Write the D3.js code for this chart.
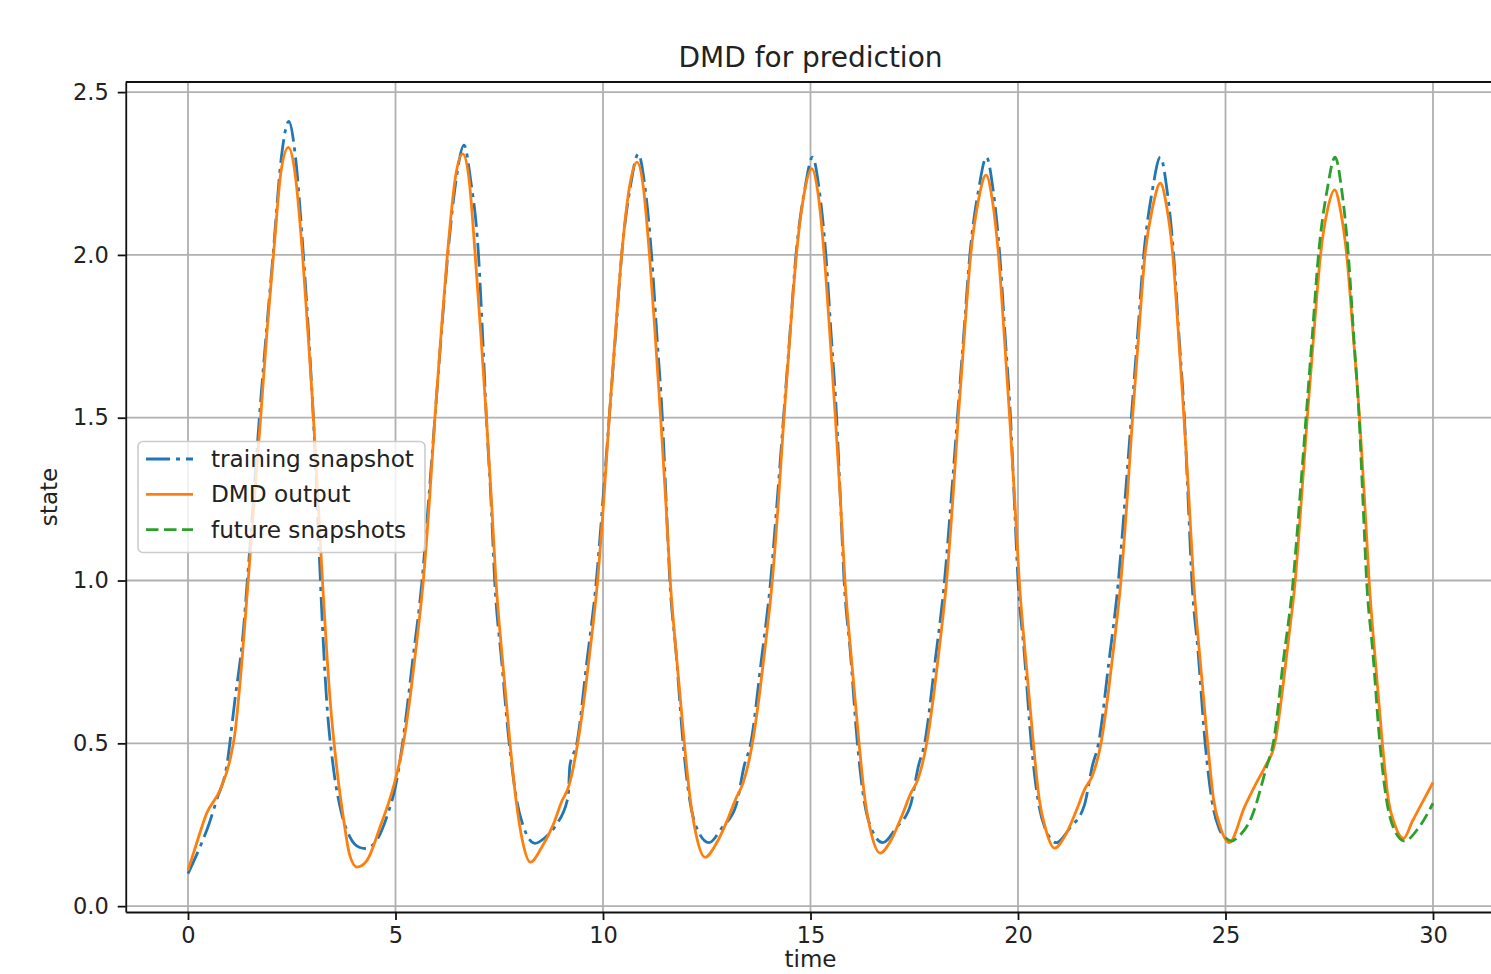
<!DOCTYPE html>
<html>
<head>
<meta charset="utf-8">
<script src="https://cdn.jsdelivr.net/npm/d3@7"></script>
<style>
  body { margin: 0; background: #fff; }
  svg text { font-family: "DejaVu Sans", sans-serif; fill: #222; }
</style>
</head>
<body>
<div id="chart"></div>
<script>
// values
const trainTime = [
  0, 0.29, 0.5, 0.69, 0.93, 1.13, 1.33, 1.43, 1.58, 1.72, 1.88, 2.05, 2.25, 2.43, 2.59, 2.78, 2.91, 3.02, 3.11, 3.19, 3.34, 3.5, 3.7, 3.9, 4.14, 4.27, 4.55, 4.79, 5.03,
  5.17, 5.41, 5.64, 5.8, 5.95, 6.1, 6.26, 6.46, 6.65, 6.81, 7.0, 7.1, 7.19, 7.3, 7.39, 7.56, 7.74, 7.92, 8.08, 8.36, 8.6, 8.84, 9.16, 9.2,
  9.37, 9.61, 9.84, 10.0, 10.15, 10.3, 10.45, 10.66, 10.85, 11.01, 11.17, 11.3, 11.43, 11.52, 11.61, 11.76, 11.93, 12.09, 12.26, 12.55, 12.86, 13.21, 13.4,
  13.56, 13.81, 14.04, 14.2, 14.35, 14.5, 14.65, 14.86, 15.05, 15.21, 15.37, 15.5, 15.63, 15.72, 15.81, 15.96, 16.13, 16.29, 16.46, 16.74, 17.06, 17.41, 17.6,
  17.75, 18.0, 18.23, 18.39, 18.54, 18.69, 18.84, 19.05, 19.24, 19.4, 19.56, 19.69, 19.82, 19.91, 20.0, 20.15, 20.32, 20.48, 20.65, 20.92, 21.25, 21.6, 21.79,
  21.94, 22.19, 22.42, 22.58, 22.73, 22.88, 23.03, 23.24, 23.43, 23.59, 23.75, 23.88, 24.01, 24.1, 24.19, 24.34, 24.51, 24.67, 24.84, 25.0
];
const trainState = [
  0.10, 0.182, 0.25, 0.326, 0.428, 0.633, 0.84, 1.0, 1.25, 1.5, 1.75, 2.0, 2.3, 2.41, 2.3, 2.0, 1.75, 1.5, 1.25, 1.0, 0.633, 0.428, 0.285, 0.213, 0.18, 0.177, 0.203, 0.274, 0.387,
  0.5, 0.75, 1.0, 1.25, 1.5, 1.75, 2.0, 2.23, 2.337, 2.23, 2.0, 1.75, 1.5, 1.25, 1.0, 0.75, 0.5, 0.326, 0.245, 0.193, 0.21, 0.244, 0.336, 0.43,
  0.5, 0.75, 1.0, 1.25, 1.5, 1.75, 2.0, 2.21, 2.31, 2.21, 2.0, 1.75, 1.5, 1.25, 1.0, 0.78, 0.5, 0.326, 0.24, 0.195, 0.24, 0.31, 0.43,
  0.5, 0.75, 1.0, 1.25, 1.5, 1.75, 2.0, 2.2, 2.30, 2.2, 2.0, 1.75, 1.5, 1.25, 1.0, 0.78, 0.5, 0.326, 0.24, 0.195, 0.24, 0.31, 0.43,
  0.5, 0.75, 1.0, 1.25, 1.5, 1.75, 2.0, 2.2, 2.30, 2.2, 2.0, 1.75, 1.5, 1.25, 1.0, 0.78, 0.5, 0.326, 0.24, 0.195, 0.24, 0.31, 0.43,
  0.5, 0.75, 1.0, 1.25, 1.5, 1.75, 2.0, 2.2, 2.30, 2.2, 2.0, 1.75, 1.5, 1.25, 1.0, 0.78, 0.5, 0.326, 0.24, 0.21
];

const dmdTime = [
  0, 0.2, 0.45, 0.77, 1.01, 1.13, 1.25, 1.45, 1.6, 1.75, 1.9, 2.06, 2.24, 2.42, 2.58, 2.76, 2.88, 3.0, 3.12, 3.24, 3.42, 3.58, 3.74, 3.9, 4.07, 4.31, 4.63, 4.95,
  5.19, 5.37, 5.52, 5.67, 5.82, 5.95, 6.1, 6.25, 6.44, 6.62, 6.77, 6.92, 7.06, 7.19, 7.31, 7.42, 7.59, 7.76, 7.9, 8.06, 8.25, 8.52, 8.8, 9.0, 9.18,
  9.39, 9.57, 9.72, 9.87, 10.02, 10.15, 10.3, 10.45, 10.64, 10.82, 10.97, 11.12, 11.26, 11.39, 11.51, 11.62, 11.79, 11.96, 12.1, 12.26, 12.46, 12.72, 13.0, 13.2, 13.38,
  13.6, 13.78, 13.93, 14.08, 14.23, 14.36, 14.51, 14.66, 14.85, 15.03, 15.18, 15.33, 15.47, 15.6, 15.72, 15.83, 16.0, 16.17, 16.31, 16.47, 16.68, 16.93, 17.21, 17.41, 17.59,
  17.8, 17.98, 18.13, 18.28, 18.43, 18.56, 18.71, 18.86, 19.05, 19.23, 19.38, 19.53, 19.67, 19.8, 19.92, 20.03, 20.2, 20.37, 20.51, 20.67, 20.88, 21.13, 21.41, 21.61, 21.79,
  22.0, 22.18, 22.33, 22.48, 22.63, 22.76, 22.91, 23.06, 23.25, 23.43, 23.58, 23.73, 23.87, 24.0, 24.12, 24.23, 24.4, 24.57, 24.71, 24.87, 25.09, 25.46, 25.75, 25.96,
  26.19, 26.37, 26.52, 26.68, 26.83, 26.97, 27.13, 27.29, 27.46, 27.63, 27.78, 27.92, 28.08, 28.23, 28.35, 28.46, 28.62, 28.78, 28.92, 29.08, 29.29, 29.5, 29.75, 30.0
];
const dmdState = [
  0.11, 0.19, 0.285, 0.356, 0.448, 0.53, 0.68, 1.0, 1.25, 1.5, 1.76, 2.0, 2.255, 2.33, 2.25, 2.0, 1.78, 1.55, 1.28, 1.0, 0.64, 0.43, 0.275, 0.155, 0.12, 0.14, 0.244, 0.366,
  0.5, 0.66, 0.82, 1.0, 1.25, 1.5, 1.76, 2.0, 2.235, 2.31, 2.235, 2.0, 1.75, 1.5, 1.25, 1.0, 0.74, 0.5, 0.33, 0.2, 0.135, 0.18, 0.25, 0.32, 0.37,
  0.5, 0.66, 0.82, 1.0, 1.25, 1.5, 1.76, 2.0, 2.21, 2.285, 2.21, 2.0, 1.75, 1.5, 1.25, 1.0, 0.74, 0.5, 0.33, 0.21, 0.15, 0.19, 0.265, 0.33, 0.38,
  0.5, 0.66, 0.82, 1.0, 1.25, 1.5, 1.76, 2.0, 2.19, 2.265, 2.19, 2.0, 1.75, 1.5, 1.25, 1.0, 0.74, 0.5, 0.33, 0.22, 0.163, 0.2, 0.28, 0.345, 0.39,
  0.5, 0.66, 0.82, 1.0, 1.25, 1.5, 1.76, 2.0, 2.17, 2.245, 2.17, 2.0, 1.75, 1.5, 1.25, 1.0, 0.74, 0.5, 0.33, 0.235, 0.178, 0.215, 0.295, 0.36, 0.4,
  0.5, 0.66, 0.82, 1.0, 1.25, 1.5, 1.76, 2.0, 2.15, 2.22, 2.15, 2.0, 1.75, 1.5, 1.25, 1.0, 0.74, 0.5, 0.33, 0.245, 0.195, 0.305, 0.38, 0.43,
  0.5, 0.66, 0.82, 1.0, 1.25, 1.5, 1.76, 2.0, 2.14, 2.2, 2.13, 2.0, 1.75, 1.5, 1.25, 1.0, 0.74, 0.5, 0.33, 0.25, 0.208, 0.26, 0.32, 0.38
];

const futureTime = [
  25.0, 25.15, 25.31, 25.63, 25.99, 26.15, 26.39, 26.63, 26.79, 26.94, 27.09, 27.24, 27.45, 27.64,
  27.8, 27.96, 28.09, 28.22, 28.31, 28.4, 28.55, 28.72, 28.88, 29.05, 29.31, 29.65, 30.0
];
const futureState = [
  0.21, 0.2, 0.213, 0.274, 0.428, 0.5, 0.75, 1.0, 1.25, 1.5, 1.75, 2.0, 2.2, 2.3,
  2.2, 2.0, 1.75, 1.5, 1.25, 1.0, 0.78, 0.5, 0.326, 0.24, 0.2, 0.24, 0.316
];

const xTicks = [0, 5, 10, 15, 20, 25, 30];
const yTicks = [0.0, 0.5, 1.0, 1.5, 2.0, 2.5];
const legendLabels = ['training snapshot', 'DMD output', 'future snapshots'];

const width = 1491, height = 974;
const plot = { left: 125.75, right: 1495.25, top: 82, bottom: 912 };

const svg = d3.select('#chart')
    .append('svg')
    .attr('width', width)
    .attr('height', height);

const x = d3.scaleLinear().domain([-1.5, 31.5]).range([plot.left, plot.right]);
const y = d3.scaleLinear().domain([-0.018, 2.531]).range([plot.bottom, plot.top]);

// grid
const grid = svg.append('g').attr('stroke', '#b0b0b0').attr('stroke-width', 1.8);
grid.selectAll('.gx').data(xTicks).enter().append('line')
    .attr('x1', d => x(d)).attr('x2', d => x(d))
    .attr('y1', plot.top).attr('y2', plot.bottom);
grid.selectAll('.gy').data(yTicks).enter().append('line')
    .attr('x1', plot.left).attr('x2', plot.right)
    .attr('y1', d => y(d)).attr('y2', d => y(d));

// lines
const line = d3.line()
    .x(d => x(d[0]))
    .y(d => y(d[1]))
    .curve(d3.curveMonotoneX);

const series = [
    { t: trainTime, v: trainState, color: '#1f77b4', dash: '24,6,4,6' },
    { t: dmdTime, v: dmdState, color: '#ff7f0e', dash: null },
    { t: futureTime, v: futureState, color: '#2ca02c', dash: '12.5,5.5' }
];

series.forEach(s => {
    svg.append('path')
        .datum(d3.zip(s.t, s.v))
        .attr('d', line)
        .attr('fill', 'none')
        .attr('stroke', s.color)
        .attr('stroke-width', 2.8)
        .attr('stroke-linejoin', 'round')
        .attr('stroke-dasharray', s.dash);
});

// axes
const xAxis = svg.append('g')
    .attr('transform', `translate(0,${plot.bottom})`)
    .call(d3.axisBottom(x).tickValues(xTicks).tickFormat(d3.format('d')).tickSize(8).tickPadding(7).tickSizeOuter(0));
const yAxis = svg.append('g')
    .attr('transform', `translate(${plot.left},0)`)
    .call(d3.axisLeft(y).tickValues(yTicks).tickFormat(d3.format('.1f')).tickSize(8).tickPadding(9).tickSizeOuter(0));

[xAxis, yAxis].forEach(a => {
    a.selectAll('path.domain').attr('stroke', '#111').attr('stroke-width', 1.8);
    a.selectAll('.tick line').attr('stroke', '#111').attr('stroke-width', 1.8);
    a.selectAll('.tick text').attr('font-size', 22.5).attr('fill', '#222')
        .style('font-family', '"DejaVu Sans", sans-serif');
});

// top spine
svg.append('line')
    .attr('x1', plot.left).attr('x2', plot.right)
    .attr('y1', plot.top).attr('y2', plot.top)
    .attr('stroke', '#111').attr('stroke-width', 1.8);

// title and axis labels
svg.append('text')
    .attr('x', (plot.left + plot.right) / 2).attr('y', 67)
    .attr('text-anchor', 'middle').attr('font-size', 28)
    .text('DMD for prediction');

svg.append('text')
    .attr('x', (plot.left + plot.right) / 2).attr('y', 967)
    .attr('text-anchor', 'middle').attr('font-size', 23)
    .text('time');

svg.append('text')
    .attr('transform', `translate(57,${(plot.top + plot.bottom) / 2}) rotate(-90)`)
    .attr('text-anchor', 'middle').attr('font-size', 23)
    .text('state');

// legend
const legend = svg.append('g');
legend.append('rect')
    .attr('x', 138).attr('y', 441.5)
    .attr('width', 287).attr('height', 111)
    .attr('rx', 5).attr('ry', 5)
    .attr('fill', 'rgba(255,255,255,0.8)')
    .attr('stroke', '#cccccc').attr('stroke-width', 1.6);

const rows = legend.selectAll('.row').data(series).enter().append('g')
    .attr('transform', (d, i) => `translate(0,${459 + i * 35.3})`);
rows.append('line')
    .attr('x1', 146).attr('x2', 193)
    .attr('stroke', d => d.color)
    .attr('stroke-width', 2.8)
    .attr('stroke-dasharray', d => d.dash);
rows.append('text')
    .attr('x', 211).attr('dy', '0.35em')
    .attr('font-size', 23.2)
    .text((d, i) => legendLabels[i]);
</script>
</body>
</html>
